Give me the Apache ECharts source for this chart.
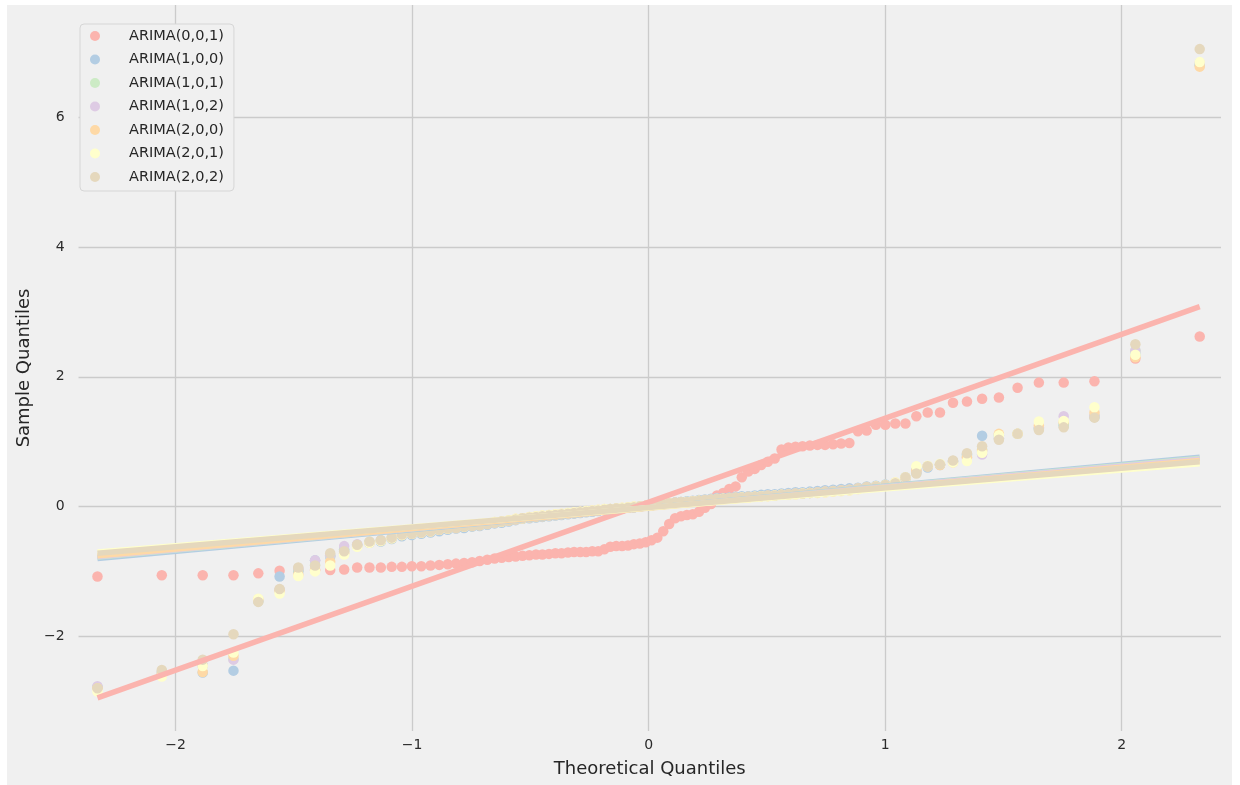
<!DOCTYPE html>
<html>
<head>
    <meta charset="utf-8">
    <title>QQ plot</title>
    <script src="https://cdn.jsdelivr.net/npm/echarts@6/dist/echarts.min.js"></script>
    <style>
        * {
            margin: 0;
            padding: 0;
        }
        body, html {
            background: #ffffff;
            width: 1240px;
            height: 785px;
            overflow: hidden;
        }
        #main {
            position: absolute;
            left: 7px;
            top: 5px;
            width: 1225px;
            height: 780px;
        }
    </style>
</head>
<body>
<div id="main"></div>
<script>
    // theoretical quantiles (x), shared by every model
    var theoQ = [-2.330,-2.058,-1.885,-1.755,-1.650,-1.560,-1.481,-1.410,-1.346,-1.287,
        -1.232,-1.180,-1.132,-1.086,-1.043,-1.001,-0.961,-0.922,-0.885,-0.849,
        -0.814,-0.780,-0.746,-0.714,-0.682,-0.651,-0.621,-0.591,-0.562,-0.533,
        -0.504,-0.476,-0.449,-0.421,-0.394,-0.368,-0.341,-0.315,-0.289,-0.264,
        -0.238,-0.213,-0.187,-0.162,-0.137,-0.112,-0.087,-0.062,-0.037,-0.012,
        0.012,0.037,0.062,0.087,0.112,0.137,0.162,0.187,0.213,0.238,
        0.264,0.289,0.315,0.341,0.368,0.394,0.421,0.449,0.476,0.504,
        0.533,0.562,0.591,0.621,0.651,0.682,0.714,0.746,0.780,0.814,
        0.849,0.885,0.922,0.961,1.001,1.043,1.086,1.132,1.180,1.232,
        1.287,1.346,1.410,1.481,1.560,1.650,1.755,1.885,2.058,2.330];

    var models = ['ARIMA(0,0,1)', 'ARIMA(1,0,0)', 'ARIMA(1,0,1)', 'ARIMA(1,0,2)',
        'ARIMA(2,0,0)', 'ARIMA(2,0,1)', 'ARIMA(2,0,2)'];
    var colors = ['#fbb4ae', '#b3cde3', '#ccebc5', '#decbe4', '#fed9a6', '#ffffcc', '#e5d8bd'];

    // sample quantiles
    var q001 = [-1.08,-1.06,-1.06,-1.06,-1.03,-0.99,-0.98,-0.98,-0.98,-0.97,
        -0.94,-0.94,-0.94,-0.93,-0.93,-0.92,-0.92,-0.91,-0.90,-0.89,
        -0.88,-0.87,-0.86,-0.84,-0.82,-0.80,-0.79,-0.78,-0.77,-0.76,
        -0.75,-0.74,-0.74,-0.73,-0.72,-0.72,-0.71,-0.70,-0.70,-0.70,
        -0.69,-0.69,-0.66,-0.62,-0.61,-0.61,-0.60,-0.58,-0.57,-0.55,
        -0.52,-0.48,-0.38,-0.27,-0.18,-0.15,-0.13,-0.12,-0.08,-0.02,
        0.04,0.17,0.21,0.27,0.31,0.45,0.54,0.58,0.64,0.69,
        0.74,0.88,0.91,0.92,0.93,0.94,0.95,0.95,0.96,0.97,
        0.98,1.16,1.17,1.26,1.26,1.28,1.28,1.39,1.45,1.45,
        1.60,1.62,1.66,1.68,1.83,1.91,1.91,1.93,2.28,2.62];
    var q100 = [-2.78,-2.60,-2.56,-2.53,-1.45,-1.08,-1.00,-0.83,-0.77,-0.66,
        -0.60,-0.56,-0.54,-0.50,-0.46,-0.44,-0.42,-0.40,-0.38,-0.36,
        -0.34,-0.33,-0.31,-0.30,-0.28,-0.26,-0.25,-0.23,-0.21,-0.19,
        -0.18,-0.17,-0.16,-0.15,-0.14,-0.13,-0.12,-0.11,-0.10,-0.09,
        -0.08,-0.07,-0.06,-0.05,-0.04,-0.03,-0.02,-0.01,0.00,0.01,
        0.02,0.03,0.04,0.05,0.06,0.07,0.08,0.09,0.10,0.11,
        0.12,0.13,0.13,0.14,0.15,0.16,0.16,0.17,0.18,0.19,
        0.19,0.20,0.21,0.22,0.22,0.23,0.24,0.25,0.26,0.27,
        0.28,0.29,0.31,0.32,0.34,0.36,0.43,0.52,0.60,0.64,
        0.69,0.80,1.09,1.10,1.12,1.20,1.25,1.38,2.35,6.80];
    var q101 = [-2.79,-2.55,-2.45,-2.35,-1.46,-1.29,-0.97,-0.90,-0.76,-0.68,
        -0.59,-0.55,-0.52,-0.48,-0.44,-0.42,-0.40,-0.38,-0.36,-0.34,
        -0.33,-0.31,-0.30,-0.29,-0.27,-0.25,-0.23,-0.22,-0.20,-0.18,
        -0.17,-0.16,-0.15,-0.14,-0.13,-0.12,-0.11,-0.10,-0.09,-0.08,
        -0.07,-0.06,-0.05,-0.04,-0.03,-0.03,-0.02,-0.01,0.00,0.01,
        0.02,0.03,0.04,0.05,0.06,0.07,0.07,0.08,0.09,0.10,
        0.11,0.12,0.12,0.13,0.14,0.14,0.15,0.15,0.16,0.17,
        0.17,0.18,0.19,0.20,0.20,0.21,0.22,0.23,0.24,0.25,
        0.26,0.28,0.30,0.31,0.33,0.36,0.45,0.56,0.62,0.65,
        0.70,0.78,0.88,1.05,1.12,1.20,1.26,1.40,2.40,6.82];
    var q102 = [-2.77,-2.55,-2.45,-2.36,-1.45,-1.28,-0.95,-0.83,-0.75,-0.61,
        -0.58,-0.55,-0.52,-0.48,-0.44,-0.42,-0.40,-0.38,-0.36,-0.34,
        -0.33,-0.31,-0.30,-0.29,-0.27,-0.25,-0.23,-0.22,-0.20,-0.18,
        -0.17,-0.16,-0.15,-0.14,-0.13,-0.12,-0.11,-0.10,-0.09,-0.08,
        -0.07,-0.06,-0.05,-0.04,-0.03,-0.03,-0.02,-0.01,0.00,0.01,
        0.02,0.03,0.04,0.05,0.06,0.07,0.07,0.08,0.09,0.10,
        0.11,0.12,0.12,0.13,0.14,0.14,0.15,0.15,0.16,0.17,
        0.17,0.18,0.19,0.20,0.20,0.21,0.22,0.23,0.24,0.25,
        0.26,0.28,0.30,0.31,0.33,0.36,0.45,0.55,0.62,0.65,
        0.70,0.75,0.80,1.05,1.12,1.22,1.39,1.40,2.40,6.84];
    var q200 = [-2.80,-2.58,-2.55,-2.30,-1.43,-1.30,-1.05,-0.98,-0.85,-0.72,
        -0.61,-0.56,-0.53,-0.49,-0.44,-0.42,-0.40,-0.38,-0.36,-0.34,
        -0.32,-0.31,-0.29,-0.28,-0.26,-0.24,-0.23,-0.21,-0.19,-0.18,
        -0.16,-0.15,-0.14,-0.13,-0.12,-0.11,-0.10,-0.09,-0.08,-0.07,
        -0.06,-0.05,-0.04,-0.04,-0.03,-0.02,-0.01,0.00,0.00,0.01,
        0.02,0.03,0.04,0.05,0.05,0.06,0.07,0.08,0.09,0.09,
        0.10,0.11,0.12,0.12,0.13,0.14,0.14,0.15,0.16,0.16,
        0.17,0.18,0.18,0.19,0.20,0.21,0.21,0.22,0.23,0.24,
        0.25,0.27,0.29,0.31,0.33,0.37,0.44,0.55,0.62,0.64,
        0.68,0.76,0.86,1.12,1.12,1.25,1.30,1.45,2.30,6.78];
    var q201 = [-2.85,-2.62,-2.46,-2.25,-1.42,-1.34,-1.07,-1.00,-0.91,-0.74,
        -0.62,-0.56,-0.53,-0.49,-0.44,-0.42,-0.40,-0.38,-0.36,-0.34,
        -0.32,-0.31,-0.29,-0.28,-0.26,-0.24,-0.23,-0.21,-0.19,-0.18,
        -0.16,-0.15,-0.14,-0.13,-0.12,-0.11,-0.10,-0.09,-0.08,-0.07,
        -0.06,-0.05,-0.04,-0.04,-0.03,-0.02,-0.01,0.00,0.00,0.01,
        0.02,0.03,0.04,0.05,0.05,0.06,0.07,0.08,0.09,0.09,
        0.10,0.11,0.12,0.12,0.13,0.14,0.14,0.15,0.16,0.16,
        0.17,0.18,0.18,0.19,0.20,0.21,0.21,0.22,0.23,0.24,
        0.25,0.27,0.29,0.31,0.33,0.37,0.45,0.62,0.63,0.66,
        0.68,0.70,0.83,1.10,1.12,1.31,1.32,1.53,2.34,6.85];
    var q202 = [-2.80,-2.52,-2.36,-1.97,-1.47,-1.27,-0.94,-0.91,-0.72,-0.69,
        -0.59,-0.54,-0.52,-0.48,-0.43,-0.42,-0.40,-0.38,-0.36,-0.34,
        -0.33,-0.31,-0.30,-0.29,-0.27,-0.25,-0.23,-0.22,-0.20,-0.18,
        -0.17,-0.16,-0.15,-0.14,-0.13,-0.12,-0.11,-0.10,-0.09,-0.08,
        -0.07,-0.06,-0.05,-0.04,-0.03,-0.03,-0.02,-0.01,0.00,0.01,
        0.02,0.03,0.04,0.05,0.06,0.07,0.07,0.08,0.09,0.10,
        0.11,0.12,0.12,0.13,0.14,0.14,0.15,0.15,0.16,0.17,
        0.17,0.18,0.19,0.20,0.20,0.21,0.22,0.23,0.24,0.25,
        0.26,0.28,0.30,0.31,0.33,0.36,0.45,0.51,0.62,0.65,
        0.71,0.82,0.93,1.03,1.12,1.18,1.22,1.37,2.50,7.05];
    var sampleQ = [q001, q100, q101, q102, q200, q201, q202];

    // fitted reference lines, value at first and last theoretical quantile
    var fitLo = [-2.95, -0.80, -0.78, -0.77, -0.76, -0.70, -0.72];
    var fitHi = [3.08, 0.76, 0.74, 0.73, 0.71, 0.66, 0.69];

    var xTicks = [-2, -1, 0, 1, 2];
    var yTicks = [-2, 0, 2, 4, 6];

    function minusFmt(v) {
        return v < 0 ? '\u2212' + Math.abs(v) : String(v);
    }

    var series = [];
    models.forEach(function (name, k) {
        series.push({
            name: name,
            type: 'scatter',
            symbol: 'circle',
            symbolSize: 10.5,
            itemStyle: { color: colors[k], opacity: 1 },
            data: theoQ.map(function (x, i) { return [x, sampleQ[k][i]]; })
        });
        series.push({
            name: 'fit ' + name,
            type: 'line',
            symbol: 'none',
            lineStyle: { color: colors[k], width: 5.5, cap: 'butt' },
            data: [[theoQ[0], fitLo[k]], [theoQ[theoQ.length - 1], fitHi[k]]]
        });
    });

    var chart = echarts.init(document.getElementById('main'));
    var option = {
        backgroundColor: '#f0f0f0',
        animation: false,
        textStyle: { fontFamily: 'DejaVu Sans' },
        grid: { left: 71, right: 11, top: 0, bottom: 54 },
        legend: {
            data: models,
            orient: 'vertical',
            left: 73,
            top: 19,
            icon: 'circle',
            itemWidth: 20,
            itemHeight: 10,
            itemGap: 7.5,
            padding: [4, 10, 6, 10],
            backgroundColor: '#f0f0f0',
            borderColor: '#d6d6d6',
            borderWidth: 1,
            borderRadius: 4,
            textStyle: {
                fontFamily: 'DejaVu Sans',
                fontSize: 14.5,
                lineHeight: 16,
                color: '#262626',
                padding: [0, 0, 0, 19]
            }
        },
        xAxis: {
            type: 'value',
            min: -2.41,
            max: 2.42,
            splitNumber: 5,
            name: 'Theoretical Quantiles',
            nameLocation: 'middle',
            nameGap: 29,
            nameTextStyle: { fontFamily: 'DejaVu Sans', fontSize: 18, color: '#262626' },
            axisLine: { show: false },
            axisTick: { show: false },
            axisLabel: {
                margin: 7,
                fontSize: 14,
                color: '#2b2b2b',
                showMinLabel: false,
                showMaxLabel: false,
                formatter: function (v) { return xTicks.indexOf(v) >= 0 ? minusFmt(v) : ''; }
            },
            splitLine: {
                show: true,
                showMinLine: false,
                showMaxLine: false,
                lineStyle: { color: '#cbcbcb', width: 1.3 }
            }
        },
        yAxis: {
            type: 'value',
            min: -3.46,
            max: 7.73,
            splitNumber: 5,
            name: 'Sample Quantiles',
            nameLocation: 'middle',
            nameGap: 42,
            nameTextStyle: { fontFamily: 'DejaVu Sans', fontSize: 18, color: '#262626' },
            axisLine: { show: false },
            axisTick: { show: false },
            axisLabel: {
                margin: 14,
                fontSize: 14,
                color: '#2b2b2b',
                showMinLabel: false,
                showMaxLabel: false,
                formatter: function (v) { return yTicks.indexOf(v) >= 0 ? minusFmt(v) : ''; }
            },
            splitLine: {
                show: true,
                showMinLine: false,
                showMaxLine: false,
                lineStyle: { color: '#cbcbcb', width: 1.3 }
            }
        },
        series: series
    };
    chart.setOption(option);
</script>
</body>
</html>
